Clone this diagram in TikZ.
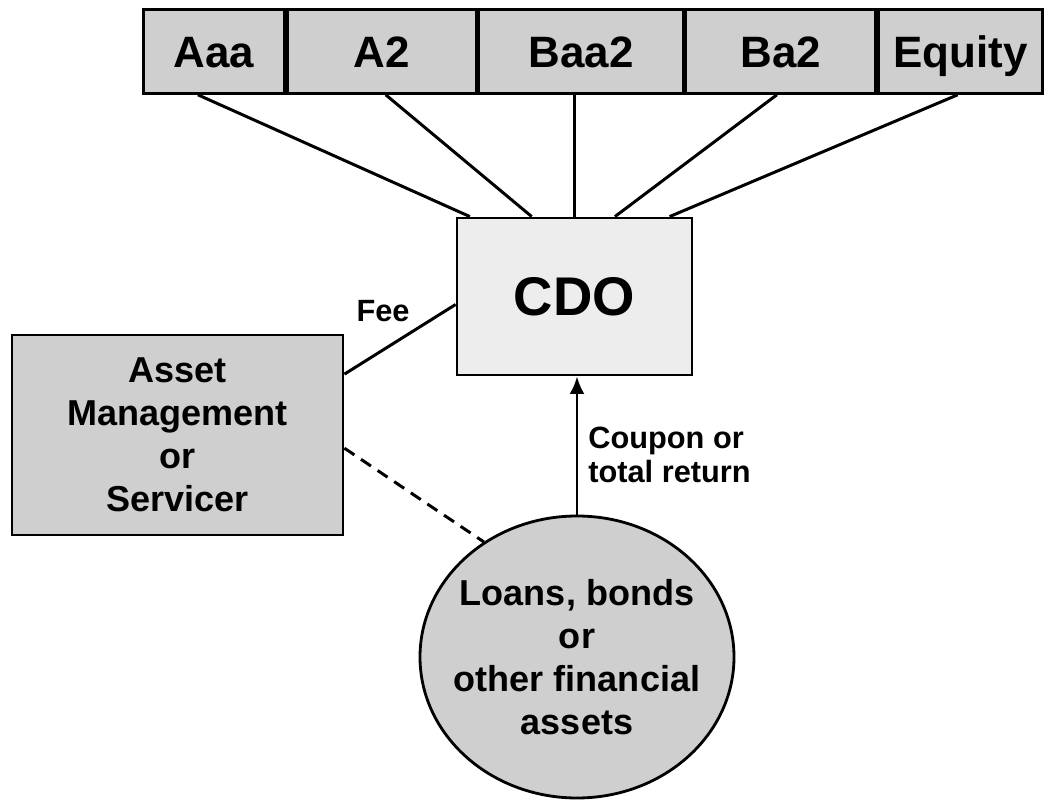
\documentclass[tikz,border=0pt]{standalone}
\usepackage{fontspec}
\setmainfont{Liberation Sans}
\usetikzlibrary{arrows.meta}
\usetikzlibrary{positioning}
\usetikzlibrary{shapes.geometric}
\usetikzlibrary{calc}

\begin{document}
\begin{tikzpicture}[>=latex, x=0.2mm, y=-0.2mm,
    tranche/.style={draw, line width=1.6pt, fill=black!19, minimum height=16.8mm, inner sep=0pt, text height=18pt, text depth=0pt, font=\fontsize{25}{30}\selectfont\bfseries},
    party/.style={draw, line width=1.6pt, fill=black!19, inner sep=0pt, align=center, font=\fontsize{20.5}{24.5}\selectfont\bfseries},
    link/.style={line width=1.7pt},
    lbl/.style={align=left, inner sep=0pt, font=\fontsize{17.5}{19}\selectfont\bfseries}]
        \def\cdoFill{black!7}

        \useasboundingbox (0,0) rectangle (1059,801);

        % tranches
        \node[tranche, minimum width=28.2mm, anchor=north west] (aaa) at (142,8) {Aaa};
        \node[tranche, minimum width=37.8mm, right=0pt of aaa] (a2) {A2};
        \node[tranche, minimum width=40.8mm, right=0pt of a2] (baa2) {Baa2};
        \node[tranche, minimum width=38mm, right=0pt of baa2] (ba2) {Ba2};
        \node[tranche, minimum width=32.8mm, right=0pt of ba2] (equity) {Equity};

        \node[party, fill=\cdoFill, minimum width=47mm, minimum height=31.4mm, font=\fontsize{31}{36}\selectfont\bfseries] (cdo) at (574.5,296.5) {CDO};
        \node[party, minimum width=66.2mm, minimum height=40mm] (asset) at (177.5,435) {Asset\\Management\\or\\Servicer};
        \node[party, ellipse, inner xsep=-2.6mm, minimum width=62.8mm, minimum height=56.4mm] (loans) at (577,657) {Loans, bonds\\or\\other financial\\assets};

        \draw[link] ($(aaa.south)+(-16,0)$) -- ($(cdo.north west)!0.06!(cdo.north east)$);
        \draw[link] ($(a2.south)+(4,0)$) -- ($(cdo.north west)!0.32!(cdo.north east)$);
        \draw[link] (baa2.south -| cdo.north) -- (cdo.north);
        \draw[link] ($(ba2.south)+(-4,0)$) -- ($(cdo.north west)!0.67!(cdo.north east)$);
        \draw[link] ($(equity.south)+(-3,0)$) -- ($(cdo.north west)!0.9!(cdo.north east)$);

        \draw[link] ($(asset.north east)!0.2!(asset.south east)$) -- ($(cdo.north west)!0.55!(cdo.south west)$);
        \node[lbl] (fee) at (383,311) {Fee};

        \draw[link, dash pattern=on 2.4mm off 1.6mm] ($(asset.north east)!0.565!(asset.south east)$) -- (loans.129);

        \draw[link, -{Latex[length=3.5mm,width=3mm]}] (loans.north) -- (loans.north |- cdo.south);
        \node[lbl, anchor=west] (coupon) at (588,455) {Coupon or\\total return};

    \end{tikzpicture}
\end{document}
